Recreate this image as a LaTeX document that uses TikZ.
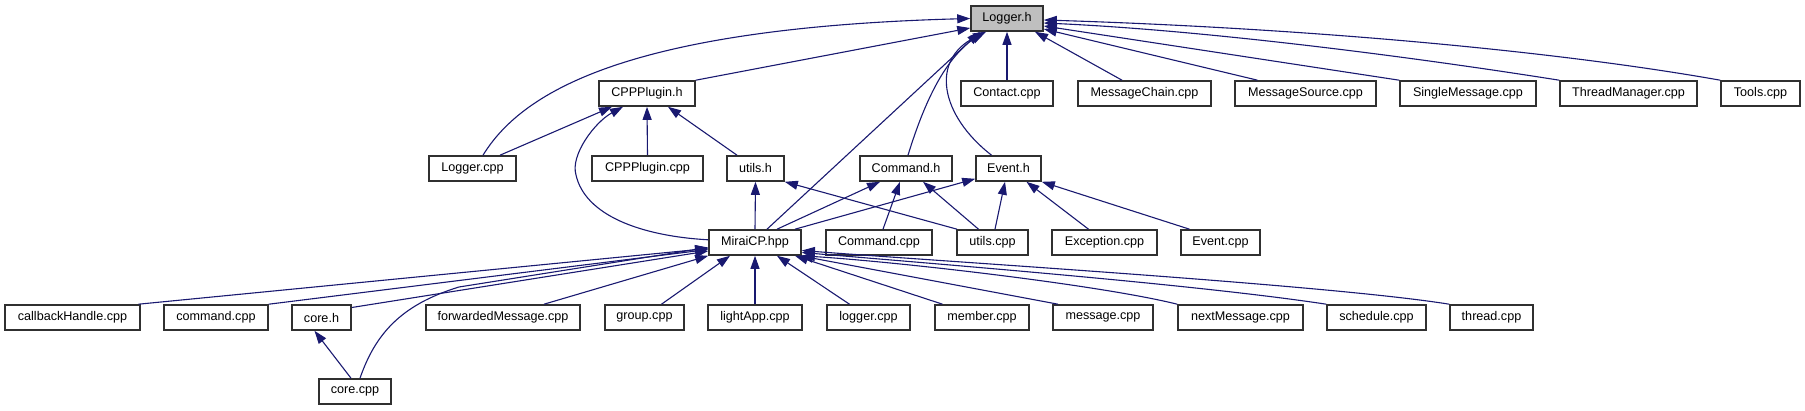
\documentclass[tikz,border=0pt]{standalone}
\usepackage{fontspec}
\setmainfont{Liberation Sans}
\usetikzlibrary{arrows.meta}
\definecolor{navy}{RGB}{25,25,112}
\definecolor{boxline}{RGB}{48,48,48}
\definecolor{rootfill}{RGB}{191,191,191}
\tikzset{
  fnode/.style={draw=boxline, line width=1.6pt, fill=white, minimum height=25pt, inner sep=0pt, text=black},
  dep/.style={draw=navy, line width=1.1pt, -{Triangle[length=13pt,width=9pt]}},
}
\begin{document}
\begin{tikzpicture}[x=1pt, y=-1pt, font=\fontsize{12.6}{14}\selectfont]
\useasboundingbox (0,0) rectangle (1805,411);
% row 1
\node[fnode, fill=rootfill, minimum width=72pt] (loggerh) at (1007,18.5) {Logger.h};
% row 2
\node[fnode, minimum width=96pt] (cppplugh) at (647,93.5) {CPPPlugin.h};
\node[fnode, minimum width=92pt] (contact) at (1007,93.5) {Contact.cpp};
\node[fnode, minimum width=133pt] (msgchain) at (1144.5,93.5) {MessageChain.cpp};
\node[fnode, minimum width=141pt] (msgsource) at (1305.5,93.5) {MessageSource.cpp};
\node[fnode, minimum width=136pt] (single) at (1468,93.5) {SingleMessage.cpp};
\node[fnode, minimum width=137pt] (threadmgr) at (1628.5,93.5) {ThreadManager.cpp};
\node[fnode, minimum width=79pt] (tools) at (1760.5,93.5) {Tools.cpp};
% row 3
\node[fnode, minimum width=87pt] (loggercpp) at (472.5,168.5) {Logger.cpp};
\node[fnode, minimum width=111pt] (cpppluginc) at (647.5,168.5) {CPPPlugin.cpp};
\node[fnode, minimum width=57pt] (utilsh) at (755.5,168.5) {utils.h};
\node[fnode, minimum width=92pt] (commandh) at (906,168.5) {Command.h};
\node[fnode, minimum width=65pt] (eventh) at (1008.5,168.5) {Event.h};
% row 4
\node[fnode, minimum width=92pt] (miraicp) at (755,242.5) {MiraiCP.hpp};
\node[fnode, minimum width=106pt] (commandcpp) at (879,242.5) {Command.cpp};
\node[fnode, minimum width=71pt] (utilscpp) at (992.5,242.5) {utils.cpp};
\node[fnode, minimum width=105pt] (exception) at (1104.5,242.5) {Exception.cpp};
\node[fnode, minimum width=79pt] (eventcpp) at (1220.5,242.5) {Event.cpp};
% row 5
\node[fnode, minimum width=135pt] (callback) at (72.5,317.5) {callbackHandle.cpp};
\node[fnode, minimum width=104pt] (commandlc) at (216,317.5) {command.cpp};
\node[fnode, minimum width=59pt] (coreh) at (321.5,317.5) {core.h};
\node[fnode, minimum width=154pt] (forwarded) at (503,317.5) {forwardedMessage.cpp};
\node[fnode, minimum width=79pt] (group) at (644.5,317.5) {group.cpp};
\node[fnode, minimum width=94pt] (lightapp) at (755,317.5) {lightApp.cpp};
\node[fnode, minimum width=83pt] (loggerlc) at (868.5,317.5) {logger.cpp};
\node[fnode, minimum width=94pt] (member) at (982,317.5) {member.cpp};
\node[fnode, minimum width=100pt] (message) at (1103,317.5) {message.cpp};
\node[fnode, minimum width=125pt] (nextmsg) at (1240.5,317.5) {nextMessage.cpp};
\node[fnode, minimum width=99pt] (schedule) at (1376.5,317.5) {schedule.cpp};
\node[fnode, minimum width=83pt] (thread) at (1491.5,317.5) {thread.cpp};
% row 6
\node[fnode, minimum width=72pt] (corecpp) at (355,391.5) {core.cpp};

% edges into Logger.h
\draw[dep] ([xshift=10.5pt]loggercpp.north) .. controls (520,95) and (620,28) .. (loggerh.west);
\draw[dep] (cppplugh.north east) -- ([yshift=-9.5pt]loggerh.west);
\draw[dep] ([xshift=12pt]miraicp.north) -- ([xshift=-27pt]loggerh.south);
\draw[dep] ([xshift=2pt]commandh.north) .. controls (925,100) and (945,60) .. ([xshift=-24pt]loggerh.south);
\draw[dep] ([xshift=-17pt]eventh.north) .. controls (940,115) and (930,60) .. ([xshift=-21pt]loggerh.south);
\draw[dep] (contact.north) -- (loggerh.south);
\draw[dep] ([xshift=-22.5pt]msgchain.north) -- ([xshift=28pt]loggerh.south);
\draw[dep] ([xshift=-48pt]msgsource.north) -- ([yshift=-10.5pt]loggerh.east);
\draw[dep] (single.north west) -- ([yshift=-7.5pt]loggerh.east);
\draw[dep] (threadmgr.north west) .. controls (1400,55) and (1200,30) .. ([yshift=-4.5pt]loggerh.east);
\draw[dep] (tools.north west) .. controls (1550,50) and (1300,28) .. ([yshift=-1.5pt]loggerh.east);
% edges into CPPPlugin.h
\draw[dep] ([xshift=27.5pt]loggercpp.north) -- ([xshift=-35pt]cppplugh.south);
\draw[dep] (cpppluginc.north) -- (cppplugh.south);
\draw[dep] ([xshift=-18.5pt]utilsh.north) -- ([xshift=21pt]cppplugh.south);
\draw[dep] ([yshift=2.7pt]miraicp.west) .. controls (640,236) and (585,215) .. (576,175)
  .. controls (570,155) and (595,122) .. ([xshift=-24pt]cppplugh.south);
% edges into utils.h
\draw[dep] (miraicp.north) -- (utilsh.south);
\draw[dep] ([xshift=-35.5pt]utilscpp.north) -- (utilsh.south east);
% edges into Command.h
\draw[dep] ([xshift=22pt]miraicp.north) -- ([xshift=-26pt]commandh.south);
\draw[dep] ([xshift=4pt]commandcpp.north) -- ([xshift=-6pt]commandh.south);
\draw[dep] ([xshift=-14pt]utilscpp.north) -- ([xshift=17pt]commandh.south);
% edges into Event.h
\draw[dep] ([xshift=40pt]miraicp.north) -- ([yshift=3pt]eventh.south west);
\draw[dep] ([xshift=2.5pt]utilscpp.north) -- ([xshift=-3.5pt]eventh.south);
\draw[dep] ([xshift=-16pt]exception.north) -- ([xshift=18pt]eventh.south);
\draw[dep] ([xshift=-31pt]eventcpp.north) -- (eventh.south east);
% edges into MiraiCP.hpp
\draw[dep] ([xshift=66pt]callback.north) -- ([yshift=-6pt]miraicp.west);
\draw[dep] (commandlc.north east) -- ([yshift=-7pt]miraicp.west);
\draw[dep] ([yshift=10pt]coreh.east) -- ([yshift=-8.5pt]miraicp.west);
\draw[dep] ([xshift=5pt]corecpp.north) .. controls (375,335) and (400,305) .. (459,287) -- ([yshift=-5pt]miraicp.west);
\draw[dep] ([xshift=41pt]forwarded.north) -- (miraicp.south west);
\draw[dep] ([xshift=17pt]group.north) -- ([xshift=-25pt]miraicp.south);
\draw[dep] (lightapp.north) -- (miraicp.south);
\draw[dep] ([xshift=-19pt]loggerlc.north) -- ([xshift=22pt]miraicp.south);
\draw[dep] ([xshift=-39.5pt]member.north) -- ([xshift=40pt]miraicp.south);
\draw[dep] ([xshift=-45pt]message.north) -- ([xshift=45pt]miraicp.south);
\draw[dep] (nextmsg.north west) .. controls (1100,285) and (900,262) .. (miraicp.south east);
\draw[dep] (schedule.north west) .. controls (1200,285) and (950,265) .. ([yshift=-10pt]miraicp.east);
\draw[dep] (thread.north west) .. controls (1330,285) and (950,262) .. ([yshift=-8pt]miraicp.east);
% core.h
\draw[dep] ([xshift=-4pt]corecpp.north) -- ([xshift=-7pt]coreh.south);
\end{tikzpicture}
\end{document}
